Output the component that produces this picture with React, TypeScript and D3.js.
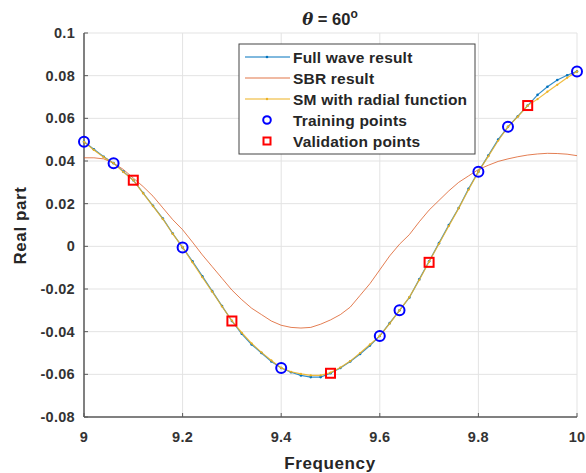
import React from "react";
import * as d3 from "d3";

const freqs: number[] = d3.range(0, 51).map((i) => +(9 + i * 0.02).toFixed(2));

const fullWave = [
  0.049, 0.0455, 0.042, 0.039, 0.035, 0.031, 0.025, 0.019, 0.013, 0.006,
  -0.0005, -0.007, -0.014, -0.021, -0.028, -0.035, -0.041, -0.046, -0.05, -0.054,
  -0.057, -0.059, -0.0605, -0.0613, -0.0613, -0.0595, -0.057, -0.054, -0.0505, -0.0465,
  -0.042, -0.036, -0.03, -0.024, -0.0155, -0.007, 0.0015, 0.01, 0.018, 0.027,
  0.035, 0.0425, 0.05, 0.056, 0.061, 0.066, 0.071, 0.0748, 0.078, 0.0802, 0.082,
];

const smRadial = [
  0.049, 0.0452, 0.0418, 0.039, 0.0348, 0.031, 0.0248, 0.0188, 0.0128, 0.0058,
  -0.0005, -0.0075, -0.0145, -0.0212, -0.0282, -0.0348, -0.0405, -0.0455, -0.0497, -0.0535,
  -0.057, -0.0588, -0.0598, -0.0605, -0.0605, -0.0592, -0.0568, -0.0538, -0.05, -0.046,
  -0.042, -0.0362, -0.03, -0.0238, -0.0158, -0.0072, 0.0012, 0.0095, 0.0178, 0.0265,
  0.035, 0.0422, 0.0495, 0.056, 0.0608, 0.066, 0.069, 0.0725, 0.0757, 0.079, 0.082,
];

const sbr = [
  0.0415, 0.0415, 0.041, 0.039, 0.036, 0.032, 0.028, 0.0235, 0.018, 0.0125,
  0.0078, 0.002, -0.004, -0.0095, -0.015, -0.0205, -0.025, -0.029, -0.032, -0.035,
  -0.037, -0.038, -0.0383, -0.038, -0.0365, -0.0345, -0.032, -0.0285, -0.023, -0.0175,
  -0.011, -0.0045, 0.001, 0.0055, 0.0115, 0.017, 0.0215, 0.026, 0.03, 0.033,
  0.036, 0.038, 0.0398, 0.041, 0.042, 0.0428, 0.0433, 0.0436, 0.0435, 0.0432, 0.0425,
];

const trainF = [9.0, 9.06, 9.2, 9.4, 9.6, 9.64, 9.8, 9.86, 10.0];
const trainV = [0.049, 0.039, -0.0005, -0.057, -0.042, -0.03, 0.035, 0.056, 0.082];
const validF = [9.1, 9.3, 9.5, 9.7, 9.9];
const validV = [0.031, -0.035, -0.0595, -0.0075, 0.066];

const xTicks = [9, 9.2, 9.4, 9.6, 9.8, 10];
const yTicks = [-0.08, -0.06, -0.04, -0.02, 0, 0.02, 0.04, 0.06, 0.08, 0.1];
const legendLabels = [
  "Full wave result",
  "SBR result",
  "SM with radial function",
  "Training points",
  "Validation points",
];

const W = 586;
const H = 473;
const M = { left: 84, right: 577, top: 33, bottom: 417 };
const C_BLUE = "#0072BD";
const C_ORANGE = "#D95319";
const C_YELLOW = "#EDB120";
const FONT = "'Liberation Sans', Arial, sans-serif";

export default function App() {
  const x = d3.scaleLinear().domain([9, 10]).range([M.left, M.right]);
  const y = d3.scaleLinear().domain([-0.08, 0.1]).range([M.bottom, M.top]);
  const line = d3
    .line<[number, number]>()
    .x((d) => x(d[0]))
    .y((d) => y(d[1]));
  const zip = (vals: number[]) => freqs.map((f, i) => [f, vals[i]] as [number, number]);

  const yFmt = (v: number) => (v === 0 ? "0" : String(+v.toFixed(2)));

  const legX = 239;
  const legY = 44;
  const legW = 236;
  const legH = 110;
  const rowY = [57, 78, 99, 120, 141];

  return (
    <svg
      width={W}
      height={H}
      style={{ position: "absolute", left: 0, top: 0, background: "#fff" }}
      fontFamily={FONT}
    >
      <rect x={0} y={0} width={W} height={H} fill="#fff" />
      {/* grid */}
      {xTicks.map((t) => (
        <line key={"gx" + t} x1={x(t)} x2={x(t)} y1={M.top} y2={M.bottom} stroke="#e3e3e3" strokeWidth={1} />
      ))}
      {yTicks.map((t) => (
        <line key={"gy" + t} x1={M.left} x2={M.right} y1={y(t)} y2={y(t)} stroke="#e3e3e3" strokeWidth={1} />
      ))}
      {/* axes */}
      <line x1={M.left} x2={M.left} y1={M.top} y2={M.bottom} stroke="#5a5a5a" strokeWidth={1.5} />
      <line x1={M.left} x2={M.right} y1={M.bottom} y2={M.bottom} stroke="#5a5a5a" strokeWidth={1.5} />
      {xTicks.map((t) => (
        <g key={"xt" + t}>
          <line x1={x(t)} x2={x(t)} y1={M.bottom} y2={M.bottom - 4} stroke="#5a5a5a" strokeWidth={1} />
          <text x={x(t)} y={442} textAnchor="middle" fontSize={14.5} fontWeight="bold" fill="#333" letterSpacing={0.3}>
            {String(t)}
          </text>
        </g>
      ))}
      {yTicks.map((t) => (
        <g key={"yt" + t}>
          <line x1={M.left} x2={M.left + 4} y1={y(t)} y2={y(t)} stroke="#5a5a5a" strokeWidth={1} />
          <text x={75} y={y(t) + 5} textAnchor="end" fontSize={14.5} fontWeight="bold" fill="#333" letterSpacing={0.3}>
            {yFmt(t)}
          </text>
        </g>
      ))}
      {/* labels */}
      <text x={330} y={469} textAnchor="middle" fontSize={17} fontWeight="bold" fill="#262626" letterSpacing={0.6}>
        Frequency
      </text>
      <text
        transform={`translate(26,${(183 + 268) / 2}) rotate(-90)`}
        textAnchor="middle"
        fontSize={17}
        fontWeight="bold"
        fill="#262626"
        letterSpacing={0.6}
      >
        Real part
      </text>
      <text x={330} y={25} textAnchor="middle" fontSize={16.5} fontWeight="bold" fill="#262626">
        <tspan fontStyle="italic" fontFamily="'DejaVu Serif', serif">θ</tspan>
        <tspan> = 60</tspan>
        <tspan dy={-7} fontSize={12}>o</tspan>
      </text>

      {/* curves */}
      <path d={line(zip(sbr)) || ""} fill="none" stroke={C_ORANGE} strokeWidth={1} strokeOpacity={0.75} />
      <path d={line(zip(fullWave)) || ""} fill="none" stroke={C_BLUE} strokeWidth={1.2} strokeOpacity={0.8} />
      {freqs.map((f, i) => (
        <circle key={"fw" + i} cx={x(f)} cy={y(fullWave[i])} r={1.3} fill={C_BLUE} />
      ))}
      <path d={line(zip(smRadial)) || ""} fill="none" stroke={C_YELLOW} strokeWidth={1.2} strokeOpacity={0.85} />
      {freqs.map((f, i) => (
        <circle key={"sm" + i} cx={x(f)} cy={y(smRadial[i])} r={1.1} fill={C_YELLOW} />
      ))}
      {/* training / validation */}
      {trainF.map((f, i) => (
        <circle key={"tr" + i} cx={x(f)} cy={y(trainV[i])} r={5} fill="none" stroke="#0000ff" strokeWidth={2} />
      ))}
      {validF.map((f, i) => (
        <rect key={"va" + i} x={x(f) - 4.5} y={y(validV[i]) - 4.5} width={9} height={9} fill="none" stroke="#ff0000" strokeWidth={2} />
      ))}

      {/* legend */}
      <rect x={legX} y={legY} width={legW} height={legH} fill="#fff" stroke="#444" strokeWidth={1} />
      <line x1={245} x2={290} y1={rowY[0]} y2={rowY[0]} stroke={C_BLUE} strokeWidth={1} />
      <circle cx={267} cy={rowY[0]} r={1.3} fill={C_BLUE} />
      <line x1={245} x2={290} y1={rowY[1]} y2={rowY[1]} stroke={C_ORANGE} strokeWidth={1} strokeOpacity={0.8} />
      <line x1={245} x2={290} y1={rowY[2]} y2={rowY[2]} stroke={C_YELLOW} strokeWidth={1} />
      <circle cx={267} cy={rowY[2]} r={1.2} fill={C_YELLOW} />
      <circle cx={267} cy={rowY[3]} r={3.8} fill="none" stroke="#0000ff" strokeWidth={2} />
      <rect x={263.5} y={rowY[4] - 3.5} width={7} height={7} fill="none" stroke="#ff0000" strokeWidth={2} />
      {legendLabels.map((l, i) => (
        <text key={l} x={293} y={rowY[i] + 5.5} fontSize={15.5} fontWeight="bold" fill="#262626" letterSpacing={0.2}>
          {l}
        </text>
      ))}
    </svg>
  );
}
